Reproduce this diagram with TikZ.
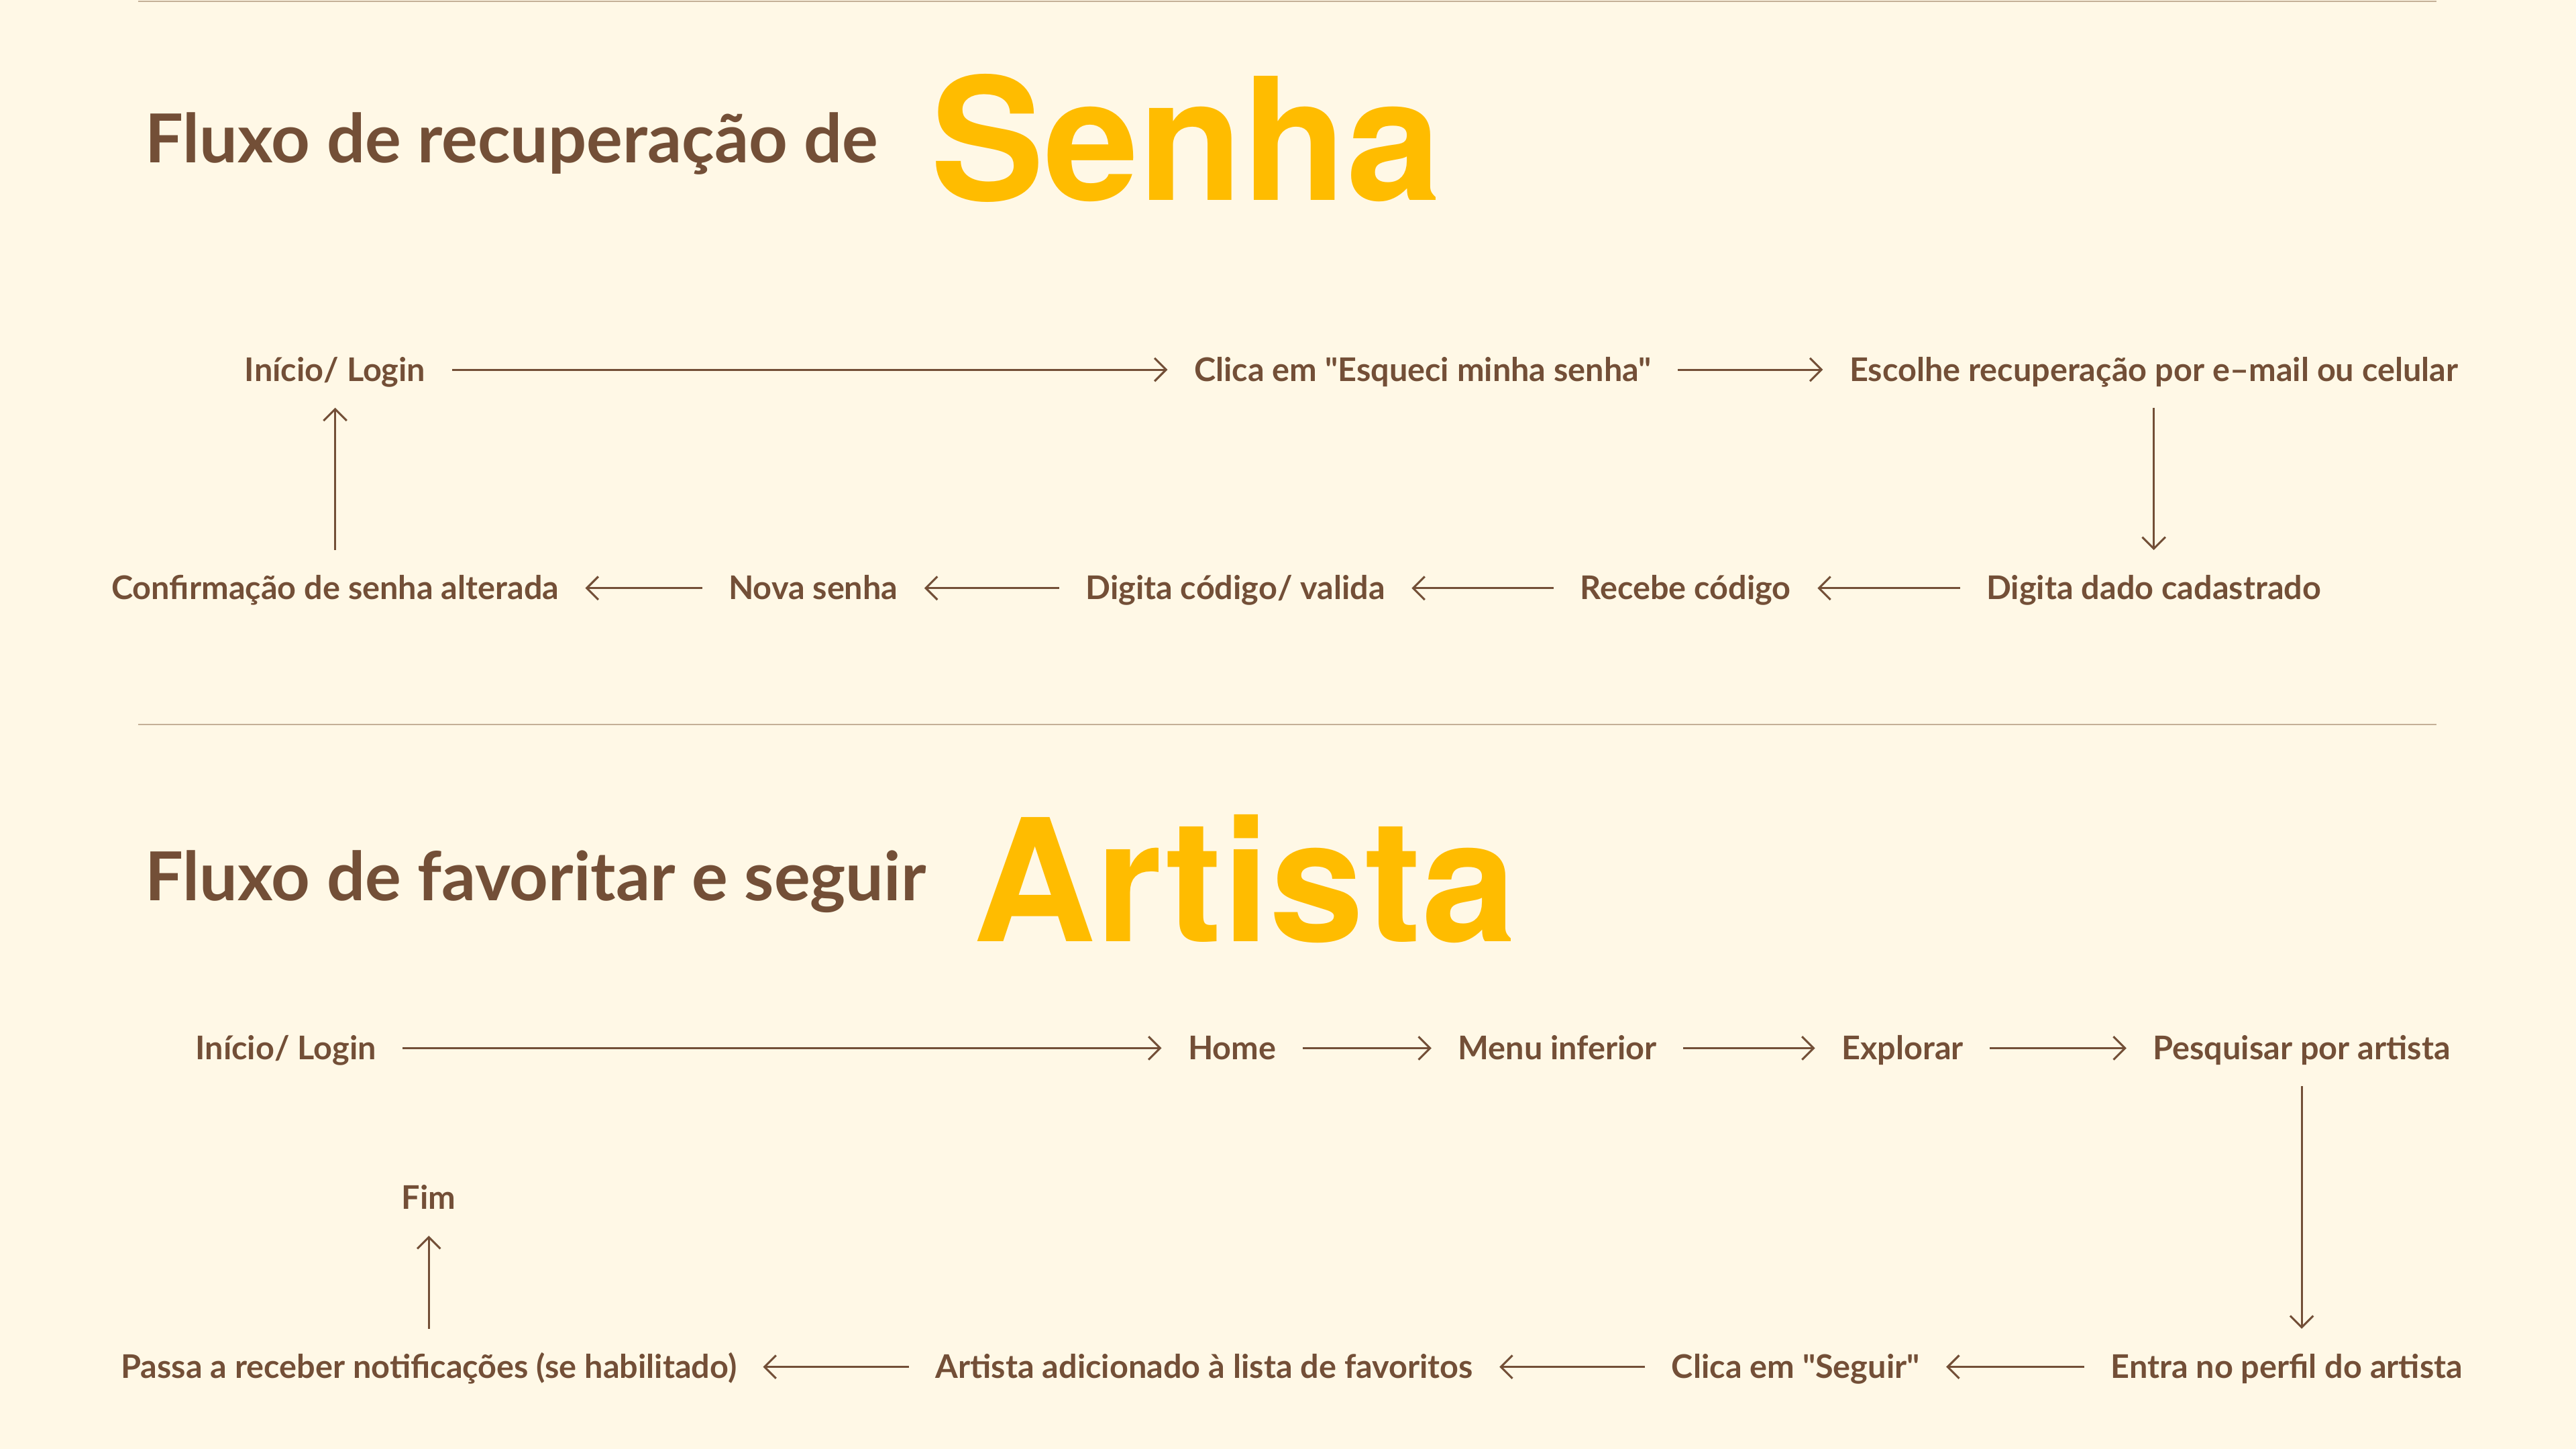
\documentclass[tikz,border=0pt]{standalone}
\usepackage{fontspec}
\setmainfont{Lato}[Ligatures=TeXOff]
\newfontfamily\bigfont{TeX Gyre Heros}
\usetikzlibrary{arrows.meta}
\definecolor{bgcream}{HTML}{FFF8E6}
\definecolor{cocoa}{HTML}{734F37}
\definecolor{mango}{HTML}{FFBC00}
\definecolor{ruler}{HTML}{C4B097}
\begin{document}
\begin{tikzpicture}[x=0.02cm, y=-0.02cm,
    passo/.style={font=\bfseries\fontsize{11.3}{13}\selectfont, text=cocoa, inner sep=0pt, text height=8pt, text depth=0pt},
    titulo/.style={font=\bfseries\fontsize{23.4}{28}\selectfont, text=cocoa, anchor=base west, inner sep=0pt},
    destaque/.style={font=\bigfont\bfseries\fontsize{59}{70}\selectfont, text=mango, anchor=base west, inner sep=0pt},
    fluxo/.style={draw=cocoa, line width=0.7pt, -{Straight Barb[length=4pt,width=8pt]}, shorten <=9pt, shorten >=9pt},
    divisa/.style={draw=ruler, line width=0.6pt}]
    \fill[bgcream] (0,0) rectangle (1568,882);
    % divisórias
    \draw[divisa] (84,0.8) -- (1483,0.8);
    \draw[divisa] (84,441) -- (1483,441);

    %% fluxo 1: recuperacao de senha
    \node[titulo] (tit1) at (88,99) {Fluxo de recuperação de};
    \node[destaque] (sen) at (566,122) {Senha};

    \node[passo] (ini1) at (204,225) {Início/ Login};
    \node[passo] (cli) at (866,225) {Clica em "Esqueci minha senha"};
    \node[passo] (esc) at (1311,225) {Escolhe recuperação por e–mail ou celular};
    \node[passo] (dig) at (1311,358) {Digita dado cadastrado};
    \node[passo] (rec) at (1026,358) {Recebe código};
    \node[passo] (val) at (752,358) {Digita código/ valida};
    \node[passo] (nov) at (495,358) {Nova senha};
    \node[passo] (conf) at (204,358) {Confirmação de senha alterada};

    \foreach \a/\b in {ini1/cli, cli/esc, esc/dig, dig/rec, rec/val, val/nov, nov/conf, conf/ini1}
        \draw[fluxo] (\a) -- (\b);

    %% fluxo 2: favoritar artista
    \node[titulo] (tit2) at (88,548) {Fluxo de favoritar e seguir};
    \node[destaque] (art) at (592,573) {Artista};

    \node[passo] (ini2) at (174,638) {Início/ Login};
    \node[passo] (home) at (750,638) {Home};
    \node[passo] (menu) at (948,638) {Menu inferior};
    \node[passo] (expl) at (1158,638) {Explorar};
    \node[passo] (pesq) at (1401,638) {Pesquisar por artista};
    \node[passo] (perf) at (1392,832) {Entra no perfil do artista};
    \node[passo] (seg) at (1093,832) {Clica em "Seguir"};
    \node[passo] (add) at (733,832) {Artista adicionado à lista de favoritos};
    \node[passo] (noti) at (261,832) {Passa a receber notificações (se habilitado)};
    \node[passo] (fim) at (261,729) {Fim};

    \foreach \a/\b in {ini2/home, home/menu, menu/expl, expl/pesq, perf/seg, seg/add, add/noti, noti/fim}
        \draw[fluxo] (\a) -- (\b);
    \draw[fluxo] (pesq) -- (pesq |- perf.north);
\end{tikzpicture}
\end{document}
